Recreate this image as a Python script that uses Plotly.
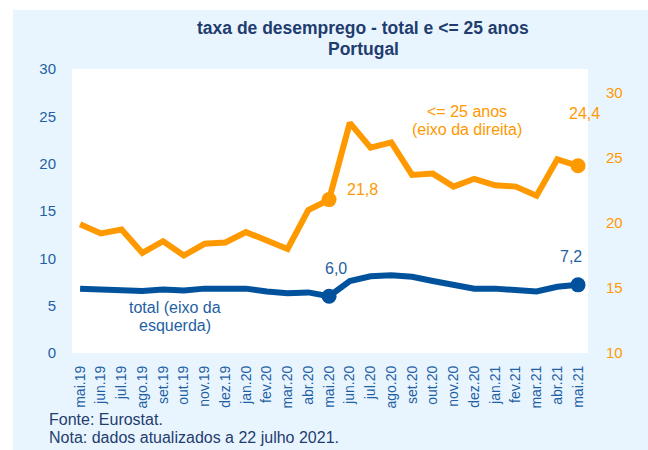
import plotly.graph_objects as go

months = ["mai.19", "jun.19", "jul.19", "ago.19", "set.19", "out.19", "nov.19", "dez.19",
          "jan.20", "fev.20", "mar.20", "abr.20", "mai.20", "jun.20", "jul.20", "ago.20",
          "set.20", "out.20", "nov.20", "dez.20", "jan.21", "fev.21", "mar.21", "abr.21", "mai.21"]
total = [6.8, 6.7, 6.65, 6.55, 6.7, 6.6, 6.8, 6.8, 6.8, 6.5, 6.3, 6.4, 6.0, 7.6, 8.1, 8.2,
         8.05, 7.6, 7.15, 6.8, 6.8, 6.7, 6.5, 7.0, 7.2]
jovens = [19.9, 19.2, 19.5, 17.7, 18.6, 17.5, 18.4, 18.5, 19.3, 18.6, 18.0, 21.0, 21.8, 27.7,
          25.8, 26.2, 23.7, 23.8, 22.8, 23.4, 22.9, 22.8, 22.1, 24.9, 24.4]
left_ticks = [0, 5, 10, 15, 20, 25, 30]
right_ticks = [10, 15, 20, 25, 30]
hl_idx = [12, 24]

BLUE = "#00529C"
ORANGE = "#FF9900"
NAVY = "#1F3D6E"
TICKBLUE = "#1F5FA3"
BG = "#E9F5FE"
FONT = "Liberation Sans, Arial, sans-serif"

fig = go.Figure()
fig.add_trace(go.Scatter(x=months, y=jovens, mode="lines", yaxis="y2",
                         line=dict(color=ORANGE, width=6), showlegend=False))
fig.add_trace(go.Scatter(x=[months[i] for i in hl_idx], y=[jovens[i] for i in hl_idx],
                         mode="markers", yaxis="y2",
                         marker=dict(color=ORANGE, size=15), showlegend=False))
fig.add_trace(go.Scatter(x=months, y=total, mode="lines",
                         line=dict(color=BLUE, width=6), showlegend=False))
fig.add_trace(go.Scatter(x=[months[i] for i in hl_idx], y=[total[i] for i in hl_idx],
                         mode="markers",
                         marker=dict(color=BLUE, size=15), showlegend=False))

L, R, T, B = 72, 60, 69, 97
W, H = 648, 450
pw, ph = W - L - R, H - T - B

def px(x):
    return (x - L) / pw

def py(y):
    return (H - B - y) / ph

shapes = [
    dict(type="rect", xref="paper", yref="paper", x0=px(13), x1=px(650), y0=py(452), y1=py(10),
         fillcolor=BG, line=dict(width=0), layer="below"),
    dict(type="rect", xref="paper", yref="paper", x0=0, x1=1, y0=0, y1=1,
         fillcolor="white", line=dict(width=0), layer="below"),
]

ann = []

def text_at(t, x, y, size, color, anchor="center", bold=False):
    ann.append(dict(text=f"<b>{t}</b>" if bold else t, xref="paper", yref="paper",
                    x=px(x), y=py(y), xanchor=anchor, yanchor="middle", showarrow=False,
                    font=dict(size=size, color=color, family=FONT)))

text_at("taxa de desemprego - total e <= 25 anos", 363, 28, 17.5, NAVY, bold=True)
text_at("Portugal", 363, 49, 17.5, NAVY, bold=True)
text_at("Fonte: Eurostat.", 47, 419, 16, NAVY, anchor="left")
text_at("Nota: dados atualizados a 22 julho 2021.", 47, 437.5, 16, NAVY, anchor="left")
text_at("<= 25 anos", 467, 111, 16, ORANGE)
text_at("(eixo da direita)", 467, 129.5, 16, ORANGE)
text_at("total (eixo da", 175, 307, 16, TICKBLUE)
text_at("esquerda)", 175, 325, 16, TICKBLUE)

ann += [
    dict(text="21,8", xref="x", yref="y2", x=months[12], y=jovens[12], xshift=33, yshift=10,
         showarrow=False, font=dict(size=16, color=ORANGE, family=FONT)),
    dict(text="24,4", xref="x", yref="y2", x=months[24], y=jovens[24], xshift=6, yshift=52,
         showarrow=False, font=dict(size=16, color=ORANGE, family=FONT)),
    dict(text="6,0", xref="x", yref="y", x=months[12], y=total[12], xshift=7, yshift=28,
         showarrow=False, font=dict(size=16, color=TICKBLUE, family=FONT)),
    dict(text="7,2", xref="x", yref="y", x=months[24], y=total[24], xshift=-7, yshift=28,
         showarrow=False, font=dict(size=16, color=TICKBLUE, family=FONT)),
]

fig.update_layout(
    width=W, height=H, margin=dict(l=L, r=R, t=T, b=B),
    paper_bgcolor="white", plot_bgcolor="white",
    font=dict(family=FONT),
    shapes=shapes, annotations=ann,
    xaxis=dict(type="category", range=[-0.39, 24.48], tickangle=-90, showgrid=False,
               showline=False, zeroline=False, ticks="",
               tickfont=dict(size=14, color=TICKBLUE, family=FONT), ticklabelstandoff=9),
    yaxis=dict(range=[0, 30], tickvals=left_ticks, showgrid=False, zeroline=False, showline=False,
               ticks="", tickfont=dict(size=15, color=TICKBLUE, family=FONT), ticklabelstandoff=15),
    yaxis2=dict(range=[10, 10 + 284 / 13], tickvals=right_ticks, overlaying="y", side="right",
                showgrid=False, zeroline=False, showline=False, ticks="",
                tickfont=dict(size=15, color=ORANGE, family=FONT), ticklabelstandoff=17),
)

fig.write_html("out.html")
